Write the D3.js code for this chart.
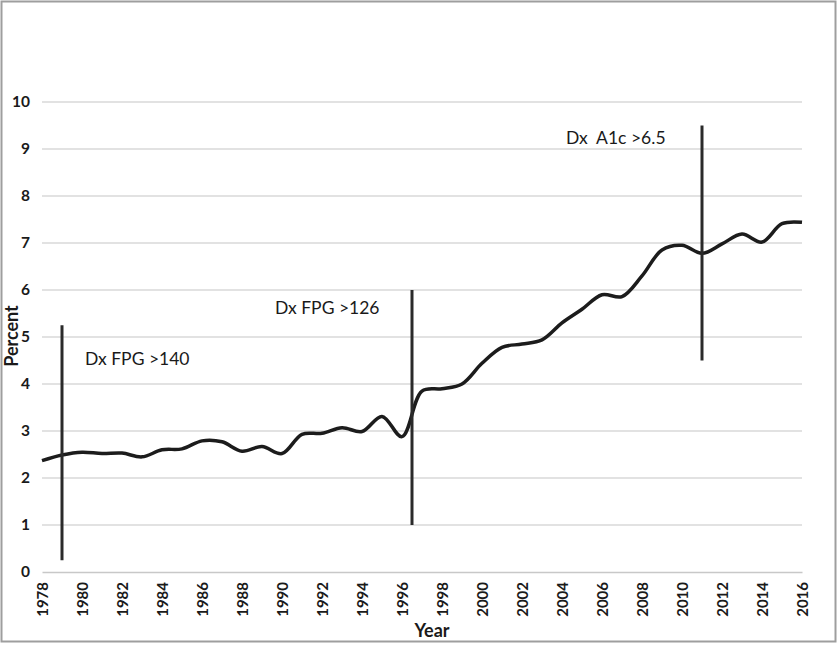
<!DOCTYPE html>
<html>
<head>
  <meta charset="utf-8">
  <script src="https://cdn.jsdelivr.net/npm/d3@7"></script>
  <style>
    body { margin: 0; background: #fff; }
    svg { display: block; font-family: Lato, "Open Sans", sans-serif; }
  </style>
</head>
<body>
<script>
  // Years on the category axis
  const years = d3.range(1978, 2017);
  // Percent values
  const percent = [2.37, 2.49, 2.55, 2.52, 2.53, 2.45, 2.60, 2.62, 2.79, 2.77,
    2.57, 2.67, 2.52, 2.93, 2.95, 3.07, 2.99, 3.31, 2.88, 3.85,
    3.90, 4.00, 4.44, 4.78, 4.85, 4.94, 5.30, 5.59, 5.90, 5.86,
    6.30, 6.85, 6.95, 6.78, 6.98, 7.19, 7.02, 7.41, 7.44];
  const yTicks = [0, 1, 2, 3, 4, 5, 6, 7, 8, 9, 10];
  const xTicks = d3.range(1978, 2017, 2);

  // vertical marker lines: year, from, to, label
  const markerYear = [1979, 1996.5, 2011];
  const markerLow = [0.25, 1, 4.5];
  const markerHigh = [5.25, 6, 9.5];
  const markerLabel = ["Dx FPG >140", "Dx FPG >126", "Dx\u00a0\u00a0A1c >6.5"];
  const labelYear = [1980.15, 1989.65, 2004.2];
  const labelValue = [4.4, 5.5, 9.1];

  const w = 839, h = 645;
  const mLeft = 42, mRight = 802, mTop = 102, mBottom = 572;

  const svg = d3.select("body").append("svg")
    .attr("width", w).attr("height", h);

  // outer frame
  svg.append("rect")
    .attr("x", 1.5).attr("y", 1.5)
    .attr("width", 834).attr("height", 640)
    .attr("fill", "none").attr("stroke", "#9e9e9e").attr("stroke-width", 2);

  const xScale = d3.scaleLinear().domain([1978, 2016]).range([mLeft, mRight]);
  const yScale = d3.scaleLinear().domain([0, 10]).range([mBottom, mTop]);

  // gridlines
  svg.append("g").selectAll("line")
    .data(yTicks.filter(d => d > 0))
    .enter().append("line")
    .attr("x1", mLeft).attr("x2", mRight)
    .attr("y1", d => yScale(d)).attr("y2", d => yScale(d))
    .attr("stroke", "#d9d9d9").attr("stroke-width", 1.5);

  // y axis labels
  const yAxis = d3.axisLeft(yScale).tickValues(yTicks).tickSize(0).tickPadding(12);
  const gy = svg.append("g").attr("transform", `translate(${mLeft},0)`).call(yAxis);
  gy.select(".domain").remove();
  gy.selectAll("text")
    .attr("font-family", "Lato, sans-serif")
    .attr("font-size", 15.5).attr("font-weight", "bold").attr("fill", "#1a1a1a");

  // x axis
  const xAxis = d3.axisBottom(xScale).tickValues(xTicks).tickSize(0).tickFormat(d3.format("d"));
  const gx = svg.append("g").attr("transform", `translate(0,${mBottom})`).call(xAxis);
  gx.select(".domain").attr("stroke", "#c8c8c8").attr("stroke-width", 1.5);
  gx.selectAll("text")
    .attr("font-family", "Lato, sans-serif")
    .attr("font-size", 15).attr("font-weight", "bold").attr("fill", "#1a1a1a")
    .attr("text-anchor", "end")
    .attr("transform", "rotate(-90)")
    .attr("x", -10).attr("y", 0).attr("dy", "0.35em");

  // axis titles
  svg.append("text")
    .attr("x", 432).attr("y", 637)
    .attr("text-anchor", "middle")
    .attr("font-size", 18).attr("font-weight", "bold").attr("fill", "#1a1a1a")
    .text("Year");
  svg.append("text")
    .attr("transform", "translate(18,336) rotate(-90)")
    .attr("text-anchor", "middle")
    .attr("font-size", 18).attr("font-weight", "bold").attr("fill", "#1a1a1a")
    .text("Percent");

  // data line
  const line = d3.line()
    .x((d, i) => xScale(years[i]))
    .y(d => yScale(d))
    .curve(d3.curveCatmullRom.alpha(0.5));
  svg.append("path")
    .datum(percent)
    .attr("d", line)
    .attr("fill", "none").attr("stroke", "#1c1c1c")
    .attr("stroke-width", 3.5).attr("stroke-linejoin", "round");

  // marker lines
  svg.append("g").selectAll("line")
    .data(markerYear)
    .enter().append("line")
    .attr("x1", d => xScale(d)).attr("x2", d => xScale(d))
    .attr("y1", (d, i) => yScale(markerLow[i]))
    .attr("y2", (d, i) => yScale(markerHigh[i]))
    .attr("stroke", "#2a2a2a").attr("stroke-width", 3);

  svg.append("g").selectAll("text")
    .data(markerLabel)
    .enter().append("text")
    .attr("x", (d, i) => xScale(labelYear[i]))
    .attr("y", (d, i) => yScale(labelValue[i]))
    .attr("font-size", 17.5).attr("fill", "#1a1a1a")
    .text(d => d);
</script>
</body>
</html>
